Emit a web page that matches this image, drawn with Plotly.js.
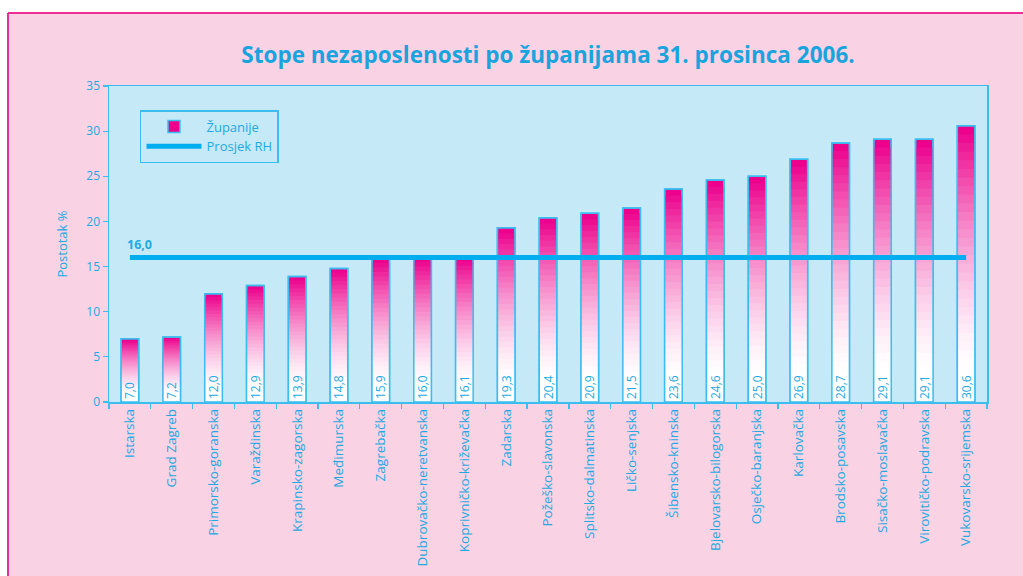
<!DOCTYPE html>
<html>
<head>
<meta charset="utf-8">
<script src="https://cdn.plot.ly/plotly-3.0.1.min.js"></script>
<style>html,body{margin:0;padding:0;background:#ffffff;}</style>
</head>
<body>
<div id="chart" style="width:1023px;height:576px;"></div>
<script>
// ---- data ----
const counties = [
  "Istarska", "Grad Zagreb", "Primorsko-goranska", "Varaždinska", "Krapinsko-zagorska",
  "Međimurska", "Zagrebačka", "Dubrovačko-neretvanska", "Koprivničko-križevačka", "Zadarska",
  "Požeško-slavonska", "Splitsko-dalmatinska", "Ličko-senjska", "Šibensko-kninska",
  "Bjelovarsko-bilogorska", "Osječko-baranjska", "Karlovačka", "Brodsko-posavska",
  "Sisačko-moslavačka", "Virovitičko-podravska", "Vukovarsko-srijemska"
];
const rates = [7.0, 7.2, 12.0, 12.9, 13.9, 14.8, 15.9, 16.0, 16.1, 19.3, 20.4, 20.9, 21.5, 23.6, 24.6, 25.0, 26.9, 28.7, 29.1, 29.1, 30.6];
const nationalAverage = 16.0;
const yTickValues = [0, 5, 10, 15, 20, 25, 30, 35];
const seriesName = "Županije";
const averageName = "Prosjek RH";
const titleText = "Stope nezaposlenosti po županijama 31. prosinca 2006.";
const yTitleText = "Postotak %";

// ---- styles ----
const CYAN_TEXT = "#22a9e1";
const CYAN_LINE = "#3bbdef";
const AVG_LINE = "#00aeef";
const PLOT_BG = "#c6e9f8";
const PAPER_BG = "#f9d3e3";
const MAGENTA = [236, 0, 140];
const FONT = "Open Sans, Lato, sans-serif";

function fmt(v) { return v.toFixed(1).replace(".", ","); }
function gradColor(f) {
  let t = Math.max(0, Math.min(1, (f - 0.12) / 0.88));
  t = Math.pow(t, 1.5);
  const c = MAGENTA.map(m => Math.round(255 + (m - 255) * t));
  return "rgb(" + c.join(",") + ")";
}

const traces = [];
const STEPS = 32;
for (let k = 0; k < STEPS; k++) {
  const frac = 1 - k / STEPS;
  traces.push({
    type: "bar",
    x: counties,
    y: rates.map(v => v * frac),
    name: seriesName,
    showlegend: k === 0,
    hoverinfo: "skip",
    marker: {
      color: gradColor(frac),
      line: { width: k === 0 ? 1.5 : 0, color: CYAN_LINE }
    }
  });
}
// outline + value labels
traces.push({
  type: "bar",
  x: counties,
  y: rates,
  showlegend: false,
  text: rates.map(fmt),
  textposition: "inside",
  insidetextanchor: "start",
  constraintext: "none",
  textangle: -90,
  textfont: { color: CYAN_TEXT, size: 12, family: FONT },
  marker: { color: "rgba(0,0,0,0)", line: { width: 1.5, color: CYAN_LINE } }
});
// national average
traces.push({
  type: "scatter",
  mode: "lines",
  x: [counties[0], counties[counties.length - 1]],
  y: [nationalAverage, nationalAverage],
  name: averageName,
  line: { color: AVG_LINE, width: 5 }
});

const layout = {
  width: 1023,
  height: 576,
  margin: { l: 109, r: 36, t: 86, b: 174, pad: 0 },
  paper_bgcolor: PAPER_BG,
  plot_bgcolor: PLOT_BG,
  font: { family: FONT, color: CYAN_TEXT, size: 12 },
  barmode: "overlay",
  bargap: 0.58,
  separators: ", ",
  title: {
    text: "<b>" + titleText + "</b>",
    font: { family: FONT, size: 22.5, color: "#19a4de" },
    x: 0.5, xref: "paper", xanchor: "center",
    y: 1 - 55 / 576, yref: "container", yanchor: "middle"
  },
  xaxis: {
    type: "category",
    tickangle: -90,
    tickson: "boundaries",
    ticks: "outside",
    ticklen: 5,
    tickwidth: 1.2,
    tickcolor: CYAN_LINE,
    showline: true,
    linecolor: CYAN_LINE,
    linewidth: 1.5,
    mirror: true,
    showgrid: false,
    tickfont: { size: 13.5, color: CYAN_TEXT, family: FONT }
  },
  yaxis: {
    range: [0, 35],
    tickvals: yTickValues,
    ticks: "outside",
    ticklen: 5,
    tickwidth: 1.2,
    tickcolor: CYAN_LINE,
    showline: true,
    linecolor: CYAN_LINE,
    linewidth: 1.5,
    mirror: true,
    showgrid: false,
    zeroline: false,
    tickfont: { size: 12, color: CYAN_TEXT, family: FONT },
    title: { text: yTitleText, font: { size: 13, color: CYAN_TEXT, family: FONT }, standoff: 16 }
  },
  legend: {
    x: 0.0353, xanchor: "left",
    y: 0.924, yanchor: "top",
    bgcolor: PLOT_BG,
    bordercolor: CYAN_LINE,
    borderwidth: 1.5,
    font: { size: 13, color: CYAN_TEXT, family: FONT },
    itemwidth: 55,
    tracegroupgap: 0
  },
  annotations: [{
    xref: "x", yref: "y",
    x: counties[0], y: nationalAverage,
    text: "<b>" + fmt(nationalAverage) + "</b>",
    showarrow: false,
    xanchor: "left", yanchor: "bottom",
    xshift: -5, yshift: 3,
    font: { size: 12.5, color: CYAN_TEXT, family: FONT }
  }],
  shapes: [
    { type: "rect", xref: "paper", yref: "paper", x0: -0.2, x1: 1.2, y0: (402 - 13) / 316, y1: 1.5, fillcolor: "#ffffff", line: { width: 0 } },
    { type: "rect", xref: "paper", yref: "paper", x0: -0.2, x1: (8 - 109) / 878, y0: -0.7, y1: 1.5, fillcolor: "#ffffff", line: { width: 0 } },
    { type: "line", xref: "paper", yref: "paper", x0: (8 - 109) / 878, x1: (8 - 109) / 878, y0: -0.7, y1: (402 - 13) / 316, line: { color: "#ec2f96", width: 2 } },
    { type: "line", xref: "paper", yref: "paper", x0: (8 - 109) / 878, x1: 1.2, y0: (402 - 13) / 316, y1: (402 - 13) / 316, line: { color: "#ec2f96", width: 2 } }
  ]
};

Plotly.newPlot("chart", traces, layout, { displayModeBar: false, staticPlot: true });
</script>
</body>
</html>
